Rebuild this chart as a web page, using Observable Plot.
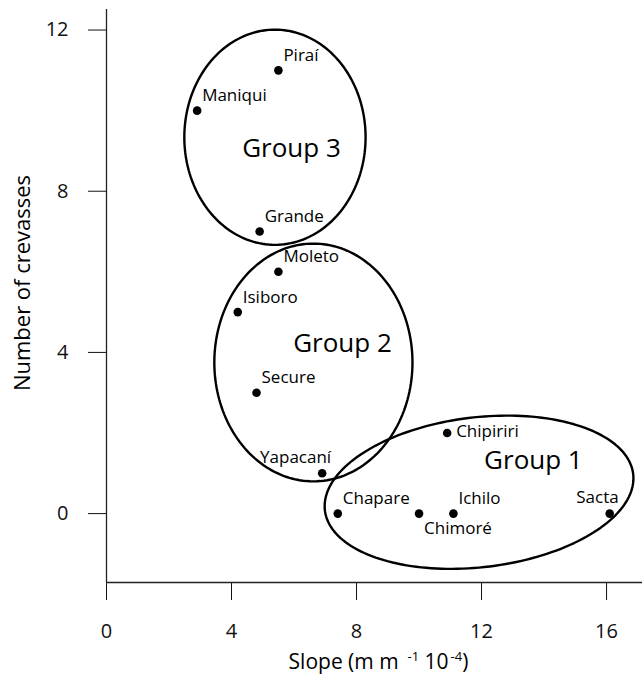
<!DOCTYPE html>
<html>
<head>
<meta charset="utf-8">
<script src="https://cdn.jsdelivr.net/npm/d3@7"></script>
<script src="https://cdn.jsdelivr.net/npm/@observablehq/plot@0.6"></script>
<style>
  html, body { margin: 0; padding: 0; background: #fff; }
  #chart { width: 642px; height: 677px; }
</style>
</head>
<body>
<div id="chart"></div>
<script>
// ---- Data ----
const rivers = ["Piraí", "Maniqui", "Grande", "Moleto", "Isiboro", "Secure", "Yapacaní", "Chipiriri", "Chapare", "Chimoré", "Ichilo", "Sacta"];
const slope = [5.5, 2.9, 4.9, 5.5, 4.2, 4.8, 6.9, 10.9, 7.4, 10.0, 11.1, 16.1];
const crevasses = [11, 10, 7, 6, 5, 3, 1, 2, 0, 0, 0, 0];

const groupNames = ["Group 1", "Group 2", "Group 3"];
const groupCenterSlope = [11.92, 6.62, 5.39];
const groupCenterCrevasses = [0.53, 3.75, 9.34];
const groupRadiusSlope = [4.94, 3.17, 2.9];
const groupRadiusCrevasses = [1.87, 2.95, 2.67];
const groupTilt = [0.07, 0, 0];
const groupLabelSlope = [13.66, 7.55, 5.92];
const groupLabelCrevasses = [1.32, 4.22, 9.06];

const xTicks = [0, 4, 8, 12, 16];
const yTicks = [0, 4, 8, 12];
const xLabel = "Slope (m m -1 10 -4)";
const yLabel = "Number of crevasses";

// label placement (style, kept apart from data)
const placement = {
  "Piraí": "ar", "Maniqui": "ar", "Grande": "ar", "Moleto": "ar", "Isiboro": "ar",
  "Secure": "ar", "Chapare": "ar", "Ichilo": "ar",
  "Yapacaní": "al", "Sacta": "al", "Chipiriri": "r", "Chimoré": "br"
};

// ---- Build tables ----
const points = rivers.map((name, i) => ({name, slope: slope[i], crevasses: crevasses[i], place: placement[name]}));
const ellipsePts = [];
groupNames.forEach((g, i) => {
  const n = 180;
  for (let k = 0; k <= n; k++) {
    const t = (2 * Math.PI * k) / n;
    const dx = groupRadiusSlope[i] * Math.cos(t);
    const dy = groupRadiusCrevasses[i] * Math.sin(t);
    ellipsePts.push({group: g, slope: groupCenterSlope[i] + dx, crevasses: groupCenterCrevasses[i] + dy + groupTilt[i] * dx});
  }
});
const groupLabels = groupNames.map((g, i) => ({group: g, slope: groupLabelSlope[i], crevasses: groupLabelCrevasses[i]}));

const font = "'Open Sans', 'Noto Sans', sans-serif";
const xDomain = [0, 17.15];
const yDomain = [-1.71, 12.51];

const chart = Plot.plot({
  width: 642,
  height: 677,
  marginLeft: 106,
  marginRight: 0,
  marginTop: 9,
  marginBottom: 95,
  style: {fontFamily: font, fontSize: "20px", color: "#111", background: "#fff"},
  x: {domain: xDomain, ticks: xTicks, tickSize: 18, tickPadding: 23, label: null},
  y: {domain: yDomain, ticks: yTicks, tickSize: 18, tickPadding: 20, label: null},
  marks: [
    Plot.ruleX([xDomain[0]], {stroke: "#222", strokeWidth: 1.3}),
    Plot.ruleY([yDomain[0]], {stroke: "#222", strokeWidth: 1.3}),
    Plot.line(ellipsePts, {x: "slope", y: "crevasses", z: "group", stroke: "#000", strokeWidth: 2.4, curve: "linear"}),
    Plot.dot(points, {x: "slope", y: "crevasses", r: 4.3, fill: "#000", stroke: "none"}),
    Plot.text(points.filter(d => d.place === "ar"), {x: "slope", y: "crevasses", text: "name", textAnchor: "start", dx: 5, dy: -15, fontSize: 17, fill: "#000"}),
    Plot.text(points.filter(d => d.place === "al"), {x: "slope", y: "crevasses", text: "name", textAnchor: "end", dx: 9, dy: -16, fontSize: 17, fill: "#000"}),
    Plot.text(points.filter(d => d.place === "r"), {x: "slope", y: "crevasses", text: "name", textAnchor: "start", dx: 9, dy: -1, fontSize: 17, fill: "#000"}),
    Plot.text(points.filter(d => d.place === "br"), {x: "slope", y: "crevasses", text: "name", textAnchor: "start", dx: 5, dy: 15, fontSize: 17, fill: "#000"}),
    Plot.text(groupLabels, {x: "slope", y: "crevasses", text: "group", fontSize: 26, fill: "#000"}),
    Plot.text([yLabel], {text: d => d, frameAnchor: "left", textAnchor: "middle", lineAnchor: "middle", rotate: -90, dx: -84, dy: -13, fontSize: 22, fill: "#000"}),
    Plot.text([xLabel], {text: d => d, frameAnchor: "bottom", textAnchor: "middle", lineAnchor: "middle", dx: 4, dy: 80, fontSize: 21, fill: "#000"})
  ]
});

document.getElementById("chart").appendChild(chart);

// superscripts in the x-axis title
d3.select(chart).selectAll("text").filter(function() { return this.textContent === xLabel; }).each(function() {
  const el = d3.select(this);
  el.text(null);
  el.append("tspan").text("Slope (m m ");
  el.append("tspan").attr("font-size", 13).attr("dy", -8).text(" -1");
  el.append("tspan").attr("dy", 8).text(" 10");
  el.append("tspan").attr("font-size", 13).attr("dy", -8).attr("dx", 2).text("-4");
  el.append("tspan").attr("dy", 8).text(")");
});
</script>
</body>
</html>
